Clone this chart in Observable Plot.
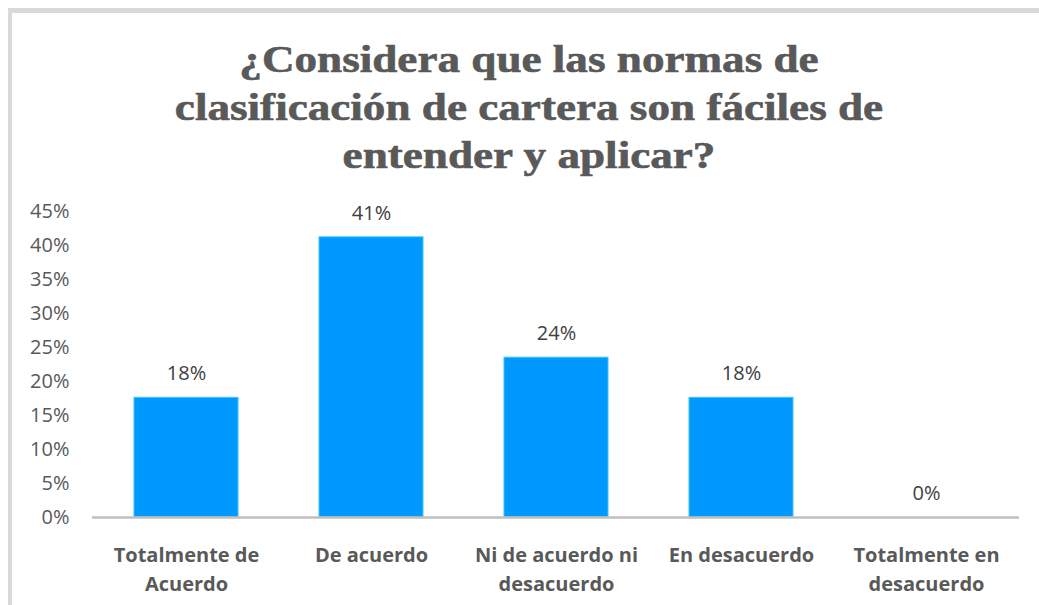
<!DOCTYPE html>
<html>
<head>
<meta charset="utf-8">
<script src="https://cdn.jsdelivr.net/npm/d3@7"></script>
<script src="https://cdn.jsdelivr.net/npm/@observablehq/plot@0.6"></script>
<style>
  html, body { margin: 0; padding: 0; background: #fff; overflow: hidden; }
  #wrap { position: relative; width: 1039px; height: 605px; overflow: hidden; }
  #frame { position: absolute; left: 8px; top: 8px; width: 1100px; height: 620px;
           border-left: 4px solid #D9D9D9; border-top: 5px solid #D9D9D9; box-sizing: border-box; }
  #title { position: absolute; left: 0; top: 36px; width: 1058px; text-align: center;
           font-family: "Liberation Serif", "Times New Roman", serif; font-weight: bold;
           font-size: 37px; line-height: 48px; color: #595959;
           -webkit-text-stroke: 0.6px #595959;
           transform: scaleX(1.22); transform-origin: 529px 0; }
  #chart { position: absolute; left: 0; top: 190px; }
</style>
</head>
<body>
<div id="wrap">
  <div id="frame"></div>
  <div id="title">¿Considera que las normas de<br>clasificación de cartera son fáciles de<br>entender y aplicar?</div>
  <div id="chart"></div>
</div>
<script>
const categories = [
  "Totalmente de\nAcuerdo",
  "De acuerdo",
  "Ni de acuerdo ni\ndesacuerdo",
  "En desacuerdo",
  "Totalmente en\ndesacuerdo"
];
const values = [0.176, 0.412, 0.235, 0.176, 0];
const yTicks = [0, 0.05, 0.10, 0.15, 0.20, 0.25, 0.30, 0.35, 0.40, 0.45];

const data = categories.map((c, i) => ({cat: c, value: values[i]}));
const pct = d3.format(".0%");

const chart = Plot.plot({
  width: 1039,
  height: 415,
  marginTop: 21,
  marginBottom: 88,
  marginLeft: 92,
  marginRight: 20,
  style: {fontFamily: "'Open Sans', sans-serif", fontSize: "20px", color: "#595959", background: "transparent"},
  x: {domain: categories, paddingInner: 0.44, paddingOuter: 0.22, axis: null},
  y: {domain: [0, 0.45], ticks: yTicks, tickFormat: pct, tickSize: 0, tickPadding: 23, label: null},
  marks: [
    Plot.barY(data, {x: "cat", y: "value", fill: "#0099FF", stroke: "#3CC4F5", strokeWidth: 1}),
    Plot.ruleY([0], {stroke: "#BFBFBF", strokeWidth: 2.5}),
    Plot.text(data, {x: "cat", y: "value", text: d => pct(d.value), dy: -24, fill: "#404040", fontSize: 20}),
    Plot.text(data, {x: "cat", text: "cat", frameAnchor: "bottom", lineAnchor: "top", dy: 24,
                     lineHeight: 1.45, fontWeight: "bold", fontSize: 20, fill: "#595959"})
  ]
});
document.getElementById("chart").appendChild(chart);
</script>
</body>
</html>
